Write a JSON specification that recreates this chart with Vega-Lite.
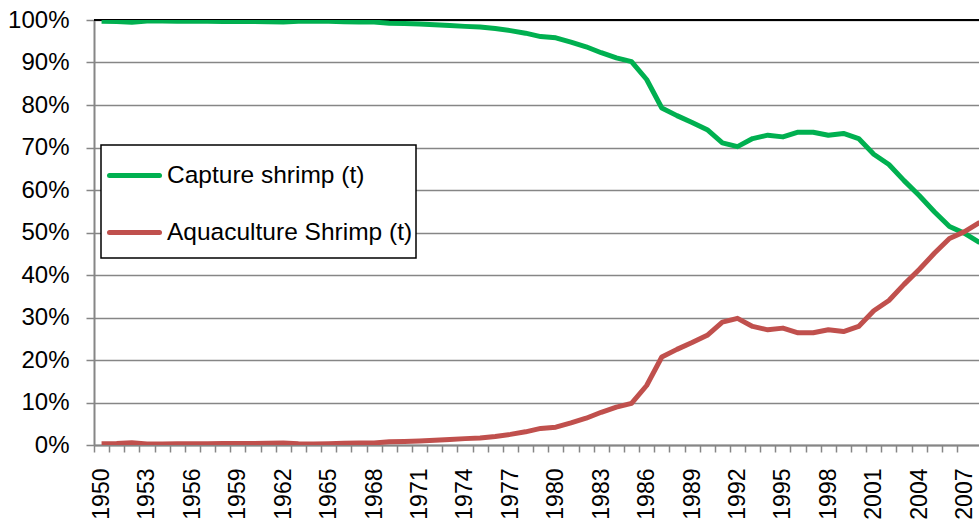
{
  "$schema": "https://vega.github.io/schema/vega-lite/v6.json",
  "width": 885,
  "height": 425,
  "autosize": "none",
  "padding": {"left": 94, "top": 20, "right": 0, "bottom": 82},
  "background": "white",
  "config": {
    "view": {"stroke": null},
    "font": "Liberation Sans"
  },
  "data": {
    "values": [
      {"year":1950,"series":"Capture shrimp (t)","value":0.997},{"year":1950,"series":"Aquaculture Shrimp (t)","value":0.003},
      {"year":1951,"series":"Capture shrimp (t)","value":0.9965},{"year":1951,"series":"Aquaculture Shrimp (t)","value":0.0035},
      {"year":1952,"series":"Capture shrimp (t)","value":0.9945},{"year":1952,"series":"Aquaculture Shrimp (t)","value":0.0055},
      {"year":1953,"series":"Capture shrimp (t)","value":0.9975},{"year":1953,"series":"Aquaculture Shrimp (t)","value":0.0025},
      {"year":1954,"series":"Capture shrimp (t)","value":0.9975},{"year":1954,"series":"Aquaculture Shrimp (t)","value":0.0025},
      {"year":1955,"series":"Capture shrimp (t)","value":0.997},{"year":1955,"series":"Aquaculture Shrimp (t)","value":0.003},
      {"year":1956,"series":"Capture shrimp (t)","value":0.997},{"year":1956,"series":"Aquaculture Shrimp (t)","value":0.003},
      {"year":1957,"series":"Capture shrimp (t)","value":0.997},{"year":1957,"series":"Aquaculture Shrimp (t)","value":0.003},
      {"year":1958,"series":"Capture shrimp (t)","value":0.9965},{"year":1958,"series":"Aquaculture Shrimp (t)","value":0.0035},
      {"year":1959,"series":"Capture shrimp (t)","value":0.9965},{"year":1959,"series":"Aquaculture Shrimp (t)","value":0.0035},
      {"year":1960,"series":"Capture shrimp (t)","value":0.9965},{"year":1960,"series":"Aquaculture Shrimp (t)","value":0.0035},
      {"year":1961,"series":"Capture shrimp (t)","value":0.996},{"year":1961,"series":"Aquaculture Shrimp (t)","value":0.004},
      {"year":1962,"series":"Capture shrimp (t)","value":0.9955},{"year":1962,"series":"Aquaculture Shrimp (t)","value":0.0045},
      {"year":1963,"series":"Capture shrimp (t)","value":0.997},{"year":1963,"series":"Aquaculture Shrimp (t)","value":0.003},
      {"year":1964,"series":"Capture shrimp (t)","value":0.9975},{"year":1964,"series":"Aquaculture Shrimp (t)","value":0.0025},
      {"year":1965,"series":"Capture shrimp (t)","value":0.997},{"year":1965,"series":"Aquaculture Shrimp (t)","value":0.003},
      {"year":1966,"series":"Capture shrimp (t)","value":0.996},{"year":1966,"series":"Aquaculture Shrimp (t)","value":0.004},
      {"year":1967,"series":"Capture shrimp (t)","value":0.9955},{"year":1967,"series":"Aquaculture Shrimp (t)","value":0.0045},
      {"year":1968,"series":"Capture shrimp (t)","value":0.995},{"year":1968,"series":"Aquaculture Shrimp (t)","value":0.005},
      {"year":1969,"series":"Capture shrimp (t)","value":0.9925},{"year":1969,"series":"Aquaculture Shrimp (t)","value":0.0075},
      {"year":1970,"series":"Capture shrimp (t)","value":0.9915},{"year":1970,"series":"Aquaculture Shrimp (t)","value":0.0085},
      {"year":1971,"series":"Capture shrimp (t)","value":0.9905},{"year":1971,"series":"Aquaculture Shrimp (t)","value":0.0095},
      {"year":1972,"series":"Capture shrimp (t)","value":0.989},{"year":1972,"series":"Aquaculture Shrimp (t)","value":0.011},
      {"year":1973,"series":"Capture shrimp (t)","value":0.987},{"year":1973,"series":"Aquaculture Shrimp (t)","value":0.013},
      {"year":1974,"series":"Capture shrimp (t)","value":0.985},{"year":1974,"series":"Aquaculture Shrimp (t)","value":0.015},
      {"year":1975,"series":"Capture shrimp (t)","value":0.9835},{"year":1975,"series":"Aquaculture Shrimp (t)","value":0.0165},
      {"year":1976,"series":"Capture shrimp (t)","value":0.980},{"year":1976,"series":"Aquaculture Shrimp (t)","value":0.020},
      {"year":1977,"series":"Capture shrimp (t)","value":0.975},{"year":1977,"series":"Aquaculture Shrimp (t)","value":0.025},
      {"year":1978,"series":"Capture shrimp (t)","value":0.969},{"year":1978,"series":"Aquaculture Shrimp (t)","value":0.031},
      {"year":1979,"series":"Capture shrimp (t)","value":0.961},{"year":1979,"series":"Aquaculture Shrimp (t)","value":0.039},
      {"year":1980,"series":"Capture shrimp (t)","value":0.958},{"year":1980,"series":"Aquaculture Shrimp (t)","value":0.042},
      {"year":1981,"series":"Capture shrimp (t)","value":0.948},{"year":1981,"series":"Aquaculture Shrimp (t)","value":0.052},
      {"year":1982,"series":"Capture shrimp (t)","value":0.937},{"year":1982,"series":"Aquaculture Shrimp (t)","value":0.063},
      {"year":1983,"series":"Capture shrimp (t)","value":0.923},{"year":1983,"series":"Aquaculture Shrimp (t)","value":0.077},
      {"year":1984,"series":"Capture shrimp (t)","value":0.911},{"year":1984,"series":"Aquaculture Shrimp (t)","value":0.089},
      {"year":1985,"series":"Capture shrimp (t)","value":0.902},{"year":1985,"series":"Aquaculture Shrimp (t)","value":0.098},
      {"year":1986,"series":"Capture shrimp (t)","value":0.860},{"year":1986,"series":"Aquaculture Shrimp (t)","value":0.140},
      {"year":1987,"series":"Capture shrimp (t)","value":0.793},{"year":1987,"series":"Aquaculture Shrimp (t)","value":0.207},
      {"year":1988,"series":"Capture shrimp (t)","value":0.775},{"year":1988,"series":"Aquaculture Shrimp (t)","value":0.225},
      {"year":1989,"series":"Capture shrimp (t)","value":0.759},{"year":1989,"series":"Aquaculture Shrimp (t)","value":0.241},
      {"year":1990,"series":"Capture shrimp (t)","value":0.742},{"year":1990,"series":"Aquaculture Shrimp (t)","value":0.258},
      {"year":1991,"series":"Capture shrimp (t)","value":0.711},{"year":1991,"series":"Aquaculture Shrimp (t)","value":0.289},
      {"year":1992,"series":"Capture shrimp (t)","value":0.702},{"year":1992,"series":"Aquaculture Shrimp (t)","value":0.298},
      {"year":1993,"series":"Capture shrimp (t)","value":0.721},{"year":1993,"series":"Aquaculture Shrimp (t)","value":0.279},
      {"year":1994,"series":"Capture shrimp (t)","value":0.729},{"year":1994,"series":"Aquaculture Shrimp (t)","value":0.271},
      {"year":1995,"series":"Capture shrimp (t)","value":0.725},{"year":1995,"series":"Aquaculture Shrimp (t)","value":0.275},
      {"year":1996,"series":"Capture shrimp (t)","value":0.736},{"year":1996,"series":"Aquaculture Shrimp (t)","value":0.264},
      {"year":1997,"series":"Capture shrimp (t)","value":0.736},{"year":1997,"series":"Aquaculture Shrimp (t)","value":0.264},
      {"year":1998,"series":"Capture shrimp (t)","value":0.729},{"year":1998,"series":"Aquaculture Shrimp (t)","value":0.271},
      {"year":1999,"series":"Capture shrimp (t)","value":0.733},{"year":1999,"series":"Aquaculture Shrimp (t)","value":0.267},
      {"year":2000,"series":"Capture shrimp (t)","value":0.721},{"year":2000,"series":"Aquaculture Shrimp (t)","value":0.279},
      {"year":2001,"series":"Capture shrimp (t)","value":0.684},{"year":2001,"series":"Aquaculture Shrimp (t)","value":0.316},
      {"year":2002,"series":"Capture shrimp (t)","value":0.660},{"year":2002,"series":"Aquaculture Shrimp (t)","value":0.340},
      {"year":2003,"series":"Capture shrimp (t)","value":0.622},{"year":2003,"series":"Aquaculture Shrimp (t)","value":0.378},
      {"year":2004,"series":"Capture shrimp (t)","value":0.587},{"year":2004,"series":"Aquaculture Shrimp (t)","value":0.413},
      {"year":2005,"series":"Capture shrimp (t)","value":0.549},{"year":2005,"series":"Aquaculture Shrimp (t)","value":0.451},
      {"year":2006,"series":"Capture shrimp (t)","value":0.514},{"year":2006,"series":"Aquaculture Shrimp (t)","value":0.486},
      {"year":2007,"series":"Capture shrimp (t)","value":0.498},{"year":2007,"series":"Aquaculture Shrimp (t)","value":0.502},
      {"year":2008,"series":"Capture shrimp (t)","value":0.476},{"year":2008,"series":"Aquaculture Shrimp (t)","value":0.524}
    ]
  },
  "layer": [
    {
      "mark": {"type": "rule", "color": "black", "strokeWidth": 2},
      "encoding": {"y": {"datum": 1, "type": "quantitative"}}
    },
    {
      "mark": {"type": "line", "strokeWidth": 5, "clip": true, "strokeJoin": "round"},
      "encoding": {
        "x": {
          "field": "year",
          "type": "quantitative",
          "scale": {"domain": [1949.5, 2007.95], "nice": false, "zero": false},
          "axis": {
            "title": null,
            "values": [1950,1951,1952,1953,1954,1955,1956,1957,1958,1959,1960,1961,1962,1963,1964,1965,1966,1967,1968,1969,1970,1971,1972,1973,1974,1975,1976,1977,1978,1979,1980,1981,1982,1983,1984,1985,1986,1987,1988,1989,1990,1991,1992,1993,1994,1995,1996,1997,1998,1999,2000,2001,2002,2003,2004,2005,2006,2007,2008],
            "format": "d",
            "labelExpr": "(datum.value - 1950) % 3 == 0 ? datum.label : ''",
            "tickOffset": -7.57,
            "labelOffset": 7.57,
            "labelAngle": -90,
            "labelAlign": "right",
            "labelBaseline": "middle",
            "labelFontSize": 23,
            "labelColor": "black",
            "labelFont": "Liberation Sans",
            "labelPadding": 16,
            "labelOverlap": false,
            "labelFlush": false,
            "labelBound": false,
            "grid": false,
            "tickSize": 7,
            "tickColor": "#868686",
            "tickWidth": 1.5,
            "domainColor": "#868686",
            "domainWidth": 2
          }
        },
        "y": {
          "field": "value",
          "type": "quantitative",
          "scale": {"domain": [0, 1], "nice": false},
          "axis": {
            "title": null,
            "values": [0,0.1,0.2,0.3,0.4,0.5,0.6,0.7,0.8,0.9,1],
            "format": ".0%",
            "labelFontSize": 24,
            "labelColor": "black",
            "labelFont": "Liberation Sans",
            "labelPadding": 17,
            "tickSize": 8,
            "tickColor": "#868686",
            "tickWidth": 1.5,
            "domainColor": "#868686",
            "domainWidth": 2,
            "grid": true,
            "gridColor": "#868686",
            "gridWidth": 1.5
          }
        },
        "color": {
          "field": "series",
          "type": "nominal",
          "sort": ["Capture shrimp (t)", "Aquaculture Shrimp (t)"],
          "scale": {"domain": ["Capture shrimp (t)", "Aquaculture Shrimp (t)"], "range": ["#00B050", "#C0504D"]},
          "legend": {
            "title": null,
            "orient": "none",
            "legendX": 7,
            "legendY": 125,
            "symbolType": "M-1,0L1,0M1,0.5",
            "symbolSize": 2500,
            "symbolStrokeWidth": 5,
            "symbolOffset": 3,
            "labelOffset": 5,
            "labelFontSize": 24.5,
            "labelFont": "Liberation Sans",
            "labelColor": "black",
            "labelLimit": 400,
            "rowPadding": 7,
            "padding": 3,
            "strokeColor": "black",
            "fillColor": "white",
            "encode": {"legend": {"update": {"strokeWidth": {"value": 1.5}}}, "symbols": {"update": {"strokeCap": {"value": "round"}}}}
          }
        }
      }
    }
  ]
}
